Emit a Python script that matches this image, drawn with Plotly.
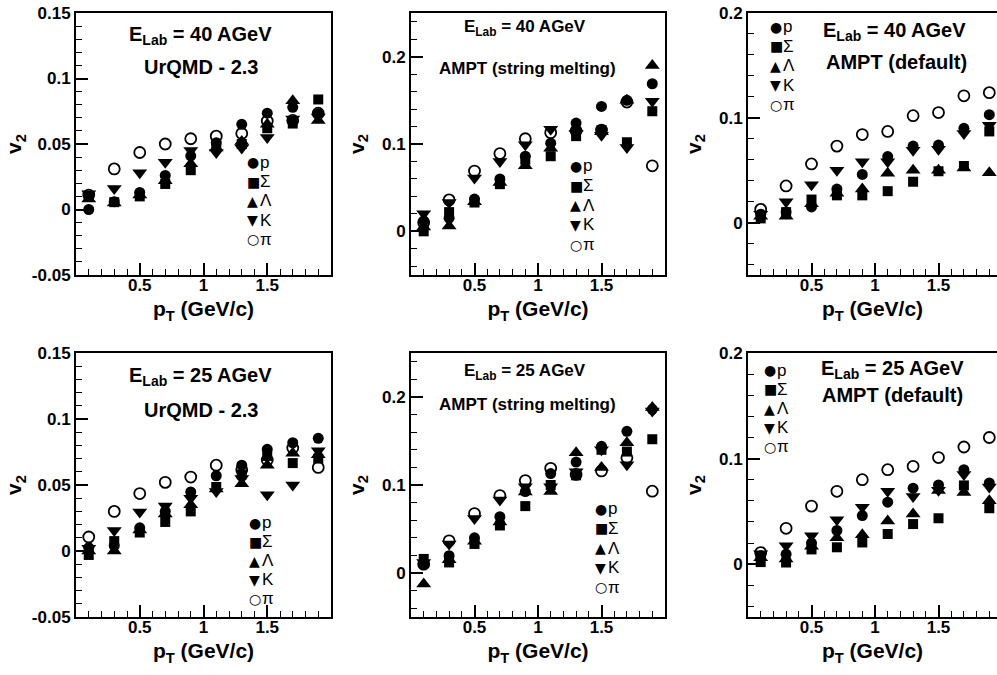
import plotly.graph_objects as go

# ---------------- data ----------------
pt = [0.1, 0.3, 0.5, 0.7, 0.9, 1.1, 1.3, 1.5, 1.7, 1.9]
species = ["p", "Σ", "Λ", "K", "π"]

# Panel 1: E_Lab = 40 AGeV, UrQMD - 2.3
urqmd40_p = [0.0, 0.006, 0.013, 0.026, 0.041, 0.051, 0.065, 0.0735, 0.078, 0.073]
urqmd40_sigma = [0.010, 0.0056, 0.010, 0.0195, 0.030, 0.0486, 0.050, 0.062, 0.0656, 0.084]
urqmd40_lambda = [0.008, 0.005, 0.011, 0.022, 0.035, 0.047, 0.052, 0.065, 0.083, 0.068]
urqmd40_k = [0.012, 0.016, 0.028, 0.036, 0.045, 0.0435, 0.047, 0.055, 0.069, 0.0706]
urqmd40_pi = [0.011, 0.031, 0.0435, 0.050, 0.054, 0.056, 0.058, 0.0676, 0.068, 0.0735]

# Panel 2: E_Lab = 40 AGeV, AMPT (string melting)
amptsm40_p = [0.012, 0.015, 0.037, 0.060, 0.086, 0.101, 0.124, 0.143, 0.150, 0.169]
amptsm40_sigma = [0.0, 0.022, 0.033, 0.054, 0.082, 0.086, 0.109, 0.116, 0.102, 0.1375]
amptsm40_lambda = [0.005, 0.006, 0.034, 0.056, 0.075, 0.095, 0.118, 0.114, 0.150, 0.190]
amptsm40_k = [0.020, 0.033, 0.061, 0.080, 0.099, 0.117, 0.112, 0.110, 0.096, 0.149]
amptsm40_pi = [0.010, 0.036, 0.069, 0.089, 0.106, 0.113, 0.115, 0.116, 0.148, 0.075]

# Panel 3: E_Lab = 40 AGeV, AMPT (default)
amptdef40_p = [0.008, 0.010, 0.015, 0.032, 0.046, 0.063, 0.073, 0.074, 0.090, 0.103]
amptdef40_sigma = [0.004, 0.010, 0.022, 0.026, 0.026, 0.030, 0.039, 0.049, 0.054, 0.087]
amptdef40_lambda = [0.006, 0.006, 0.018, 0.028, 0.032, 0.047, 0.050, 0.050, 0.052, 0.0475]
amptdef40_k = [0.008, 0.020, 0.036, 0.050, 0.058, 0.058, 0.069, 0.070, 0.085, 0.093]
amptdef40_pi = [0.0126, 0.035, 0.056, 0.073, 0.084, 0.087, 0.102, 0.105, 0.121, 0.124]

# Panel 4: E_Lab = 25 AGeV, UrQMD - 2.3
urqmd25_p = [0.0025, 0.004, 0.0176, 0.030, 0.0447, 0.057, 0.065, 0.077, 0.082, 0.0854]
urqmd25_sigma = [-0.003, 0.0075, 0.014, 0.022, 0.030, 0.0485, 0.058, 0.072, 0.0666, 0.070]
urqmd25_lambda = [0.0, 0.0, 0.016, 0.028, 0.035, 0.047, 0.051, 0.065, 0.074, 0.073]
urqmd25_k = [0.002, 0.0156, 0.0296, 0.034, 0.040, 0.045, 0.055, 0.0427, 0.050, 0.076]
urqmd25_pi = [0.0106, 0.030, 0.0435, 0.052, 0.056, 0.065, 0.0615, 0.069, 0.078, 0.0633]

# Panel 5: E_Lab = 25 AGeV, AMPT (string melting)
amptsm25_p = [0.010, 0.0196, 0.040, 0.064, 0.0925, 0.113, 0.126, 0.144, 0.161, 0.186]
amptsm25_sigma = [0.016, 0.012, 0.033, 0.054, 0.076, 0.100, 0.111, 0.140, 0.138, 0.152]
amptsm25_lambda = [-0.0125, 0.015, 0.036, 0.058, 0.092, 0.0925, 0.1366, 0.120, 0.148, 0.188]
amptsm25_k = [0.012, 0.033, 0.062, 0.083, 0.098, 0.098, 0.115, 0.140, 0.123, 0.184]
amptsm25_pi = [0.010, 0.0366, 0.0675, 0.088, 0.105, 0.119, 0.112, 0.116, 0.131, 0.093]

# Panel 6: E_Lab = 25 AGeV, AMPT (default)
amptdef25_p = [0.008, 0.0095, 0.020, 0.032, 0.046, 0.0587, 0.072, 0.075, 0.0895, 0.077]
amptdef25_sigma = [0.002, 0.0016, 0.014, 0.016, 0.0206, 0.0286, 0.038, 0.0435, 0.0746, 0.053]
amptdef25_lambda = [0.006, 0.005, 0.017, 0.025, 0.028, 0.041, 0.0476, 0.0698, 0.068, 0.060]
amptdef25_k = [0.010, 0.0175, 0.027, 0.042, 0.054, 0.069, 0.064, 0.070, 0.085, 0.073]
amptdef25_pi = [0.011, 0.034, 0.055, 0.069, 0.080, 0.0895, 0.0927, 0.101, 0.111, 0.120]

energies = ["40", "40", "40", "25", "25", "25"]
models = ["UrQMD - 2.3", "AMPT (string melting)", "AMPT (default)",
          "UrQMD - 2.3", "AMPT (string melting)", "AMPT (default)"]

x_tickvals = [0.5, 1, 1.5]
x_ticktext = ["0.5", "1", "1.5"]
y_tickvals_urqmd = [-0.05, 0, 0.05, 0.1, 0.15]
y_ticktext_urqmd = ["-0.05", "0", "0.05", "0.1", "0.15"]
y_tickvals_ampt = [0, 0.1, 0.2]
y_ticktext_ampt = ["0", "0.1", "0.2"]

panels = [
    [urqmd40_p, urqmd40_sigma, urqmd40_lambda, urqmd40_k, urqmd40_pi],
    [amptsm40_p, amptsm40_sigma, amptsm40_lambda, amptsm40_k, amptsm40_pi],
    [amptdef40_p, amptdef40_sigma, amptdef40_lambda, amptdef40_k, amptdef40_pi],
    [urqmd25_p, urqmd25_sigma, urqmd25_lambda, urqmd25_k, urqmd25_pi],
    [amptsm25_p, amptsm25_sigma, amptsm25_lambda, amptsm25_k, amptsm25_pi],
    [amptdef25_p, amptdef25_sigma, amptdef25_lambda, amptdef25_k, amptdef25_pi],
]

# ---------------- styling / layout ----------------
W, H = 997, 675
FONT = "Liberation Sans, Arial, Helvetica, sans-serif"
symbols = ["circle", "square", "triangle-up", "triangle-down", "circle-open"]
sizes = [11, 10, 13, 13, 11]
glyphs = ["●", "■", "▲", "▼", "○"]

col_px = [(76, 331), (411, 665), (748, 997)]
row_px = [(13, 275), (353, 617)]
x_ranges = [[0, 2], [0, 2], [0, (997 - 748) / 127.0]]
y_ranges = [[-0.05, 0.15], [-0.05, 0.25], [-0.05, 0.2]]
y_ticks = [(y_tickvals_urqmd, y_ticktext_urqmd), (y_tickvals_ampt, y_ticktext_ampt),
           (y_tickvals_ampt, y_ticktext_ampt)]
y_minor_step = [0.01, 0.02, 0.02]
y_title_standoff = [4, 12, 12]


def minor_positions(lo, hi, step):
    n0 = int(round(lo / step))
    n1 = int(round(hi / step))
    return [round(n * step, 6) for n in range(n0, n1 + 1)]


# annotation placement (data coords): (x1, y1, x2, y2, fontsize)
title_pos = [
    (0.98, 0.133, 0.98, 0.109, 20),
    (0.90, 0.233, 0.92, 0.186, 17),
    (1.157, 0.182, 1.17, 0.153, 20),
    (0.98, 0.132, 0.98, 0.107, 20),
    (0.90, 0.2286, 0.92, 0.192, 17),
    (1.134, 0.184, 1.134, 0.160, 20),
]
# legend placement: (x_left, y_first_center, spacing_px)
legend_pos = [
    (1.33, 0.0361, 19.3),
    (1.244, 0.075, 19.7),
    (0.165, 0.1867, 19.5),
    (1.35, 0.0215, 19.0),
    (1.44, 0.0731, 19.7),
    (0.118, 0.1838, 19.2),
]

fig = go.Figure()
layout = dict(
    template="none",
    width=W, height=H,
    margin=dict(l=0, r=0, t=0, b=0, autoexpand=False),
    paper_bgcolor="white", plot_bgcolor="white",
    showlegend=False,
    font=dict(family=FONT, color="black"),
)
annotations = []

for i, series in enumerate(panels):
    row, col = divmod(i, 3)
    xid = "x" if i == 0 else f"x{i + 1}"
    yid = "y" if i == 0 else f"y{i + 1}"
    xkey = "xaxis" if i == 0 else f"xaxis{i + 1}"
    ykey = "yaxis" if i == 0 else f"yaxis{i + 1}"
    xr = x_ranges[col]
    yr = y_ranges[col]

    for k, vals in enumerate(series):
        fig.add_trace(go.Scatter(
            x=pt, y=vals, mode="markers", name=species[k],
            xaxis=xid, yaxis=yid,
            marker=dict(symbol=symbols[k], size=sizes[k], color="black",
                        line=dict(color="black", width=1.8 if k == 4 else 0)),
        ))

    x0, x1 = col_px[col]
    y0, y1 = row_px[row]
    layout[xkey] = dict(
        domain=[x0 / W, x1 / W], anchor=yid, range=xr, automargin=False,
        showline=True, mirror=True, linecolor="black", linewidth=2,
        showgrid=False, zeroline=False,
        ticks="inside", ticklen=12, tickwidth=2, tickcolor="black",
        tickmode="array", tickvals=x_tickvals, ticktext=x_ticktext,
        ticklabelstandoff=-6,
        tickfont=dict(family=FONT, size=17, weight="bold"),
        minor=dict(ticks="inside", ticklen=6, tickwidth=1, tickcolor="black",
                   tickmode="array", tickvals=minor_positions(xr[0], xr[1], 0.1),
                   showgrid=False),
        title=dict(text="p<sub>T</sub> (GeV/c)", standoff=7,
                   font=dict(family=FONT, size=21, weight="bold")),
    )
    yt, ytt = y_ticks[col]
    layout[ykey] = dict(
        domain=[1 - y1 / H, 1 - y0 / H], anchor=xid, range=yr, automargin=False,
        showline=True, mirror=(col != 2), linecolor="black", linewidth=2,
        showgrid=False, zeroline=False,
        ticks="inside", ticklen=12, tickwidth=2, tickcolor="black",
        tickmode="array", tickvals=yt, ticktext=ytt,
        tickfont=dict(family=FONT, size=17, weight="bold"),
        minor=dict(ticks="inside", ticklen=6, tickwidth=1, tickcolor="black",
                   tickmode="array",
                   tickvals=minor_positions(yr[0], yr[1], y_minor_step[col]),
                   showgrid=False),
        title=dict(text="v<sub>2</sub>", standoff=y_title_standoff[col],
                   font=dict(family=FONT, size=21, weight="bold")),
    )

    tx1, ty1, tx2, ty2, fs = title_pos[i]
    annotations.append(dict(
        xref=xid, yref=yid, x=tx1, y=ty1, xanchor="center", yanchor="middle",
        text=f"E<sub>Lab</sub> = {energies[i]} AGeV", showarrow=False,
        font=dict(family=FONT, size=fs, weight="bold", color="black")))
    annotations.append(dict(
        xref=xid, yref=yid, x=tx2, y=ty2, xanchor="center", yanchor="middle",
        text=models[i], showarrow=False,
        font=dict(family=FONT, size=fs, weight="bold", color="black")))

    lx, ly, sp = legend_pos[i]
    for k in range(5):
        annotations.append(dict(
            xref=xid, yref=yid, x=lx, y=ly, xanchor="left", yanchor="middle",
            yshift=-k * sp, showarrow=False, text=glyphs[k], borderpad=0,
            font=dict(family="DejaVu Sans", size=14, color="black")))
        annotations.append(dict(
            xref=xid, yref=yid, x=lx, y=ly, xanchor="left", yanchor="middle",
            xshift=13, yshift=-k * sp, showarrow=False, text=species[k], borderpad=0,
            font=dict(family=FONT, size=17, color="black")))

layout["annotations"] = annotations
fig.update_layout(**layout)
fig.write_html("out.html", config={"displayModeBar": False},
               post_script="document.body.style.margin='0px';")
